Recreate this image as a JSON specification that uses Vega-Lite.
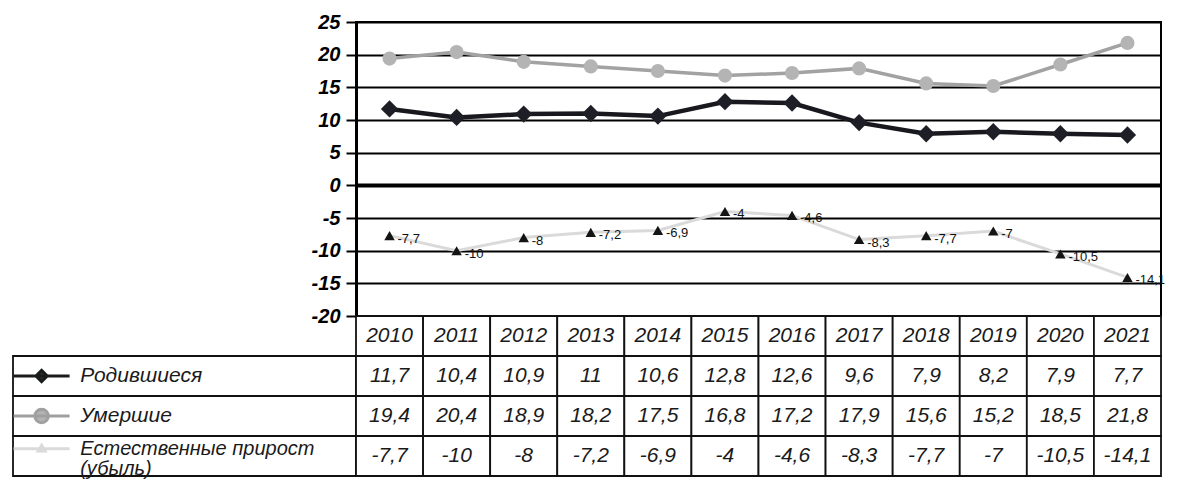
{
  "$schema": "https://vega.github.io/schema/vega-lite/v6.json",
  "padding": {"left": 7, "top": 11, "right": 0, "bottom": 0},
  "background": "white",
  "config": {
    "font": "Liberation Sans",
    "view": {"stroke": null},
    "locale": {"number": {"decimal": ",", "thousands": " ", "grouping": [3], "currency": ["", ""], "minus": "-"}}
  },
  "datasets": {
    "main": [
      {"year": 2010, "series": "Родившиеся", "value": 11.7},
      {"year": 2011, "series": "Родившиеся", "value": 10.4},
      {"year": 2012, "series": "Родившиеся", "value": 10.9},
      {"year": 2013, "series": "Родившиеся", "value": 11},
      {"year": 2014, "series": "Родившиеся", "value": 10.6},
      {"year": 2015, "series": "Родившиеся", "value": 12.8},
      {"year": 2016, "series": "Родившиеся", "value": 12.6},
      {"year": 2017, "series": "Родившиеся", "value": 9.6},
      {"year": 2018, "series": "Родившиеся", "value": 7.9},
      {"year": 2019, "series": "Родившиеся", "value": 8.2},
      {"year": 2020, "series": "Родившиеся", "value": 7.9},
      {"year": 2021, "series": "Родившиеся", "value": 7.7},
      {"year": 2010, "series": "Умершие", "value": 19.4},
      {"year": 2011, "series": "Умершие", "value": 20.4},
      {"year": 2012, "series": "Умершие", "value": 18.9},
      {"year": 2013, "series": "Умершие", "value": 18.2},
      {"year": 2014, "series": "Умершие", "value": 17.5},
      {"year": 2015, "series": "Умершие", "value": 16.8},
      {"year": 2016, "series": "Умершие", "value": 17.2},
      {"year": 2017, "series": "Умершие", "value": 17.9},
      {"year": 2018, "series": "Умершие", "value": 15.6},
      {"year": 2019, "series": "Умершие", "value": 15.2},
      {"year": 2020, "series": "Умершие", "value": 18.5},
      {"year": 2021, "series": "Умершие", "value": 21.8},
      {"year": 2010, "series": "Естественные прирост\n(убыль)", "value": -7.7},
      {"year": 2011, "series": "Естественные прирост\n(убыль)", "value": -10},
      {"year": 2012, "series": "Естественные прирост\n(убыль)", "value": -8},
      {"year": 2013, "series": "Естественные прирост\n(убыль)", "value": -7.2},
      {"year": 2014, "series": "Естественные прирост\n(убыль)", "value": -6.9},
      {"year": 2015, "series": "Естественные прирост\n(убыль)", "value": -4},
      {"year": 2016, "series": "Естественные прирост\n(убыль)", "value": -4.6},
      {"year": 2017, "series": "Естественные прирост\n(убыль)", "value": -8.3},
      {"year": 2018, "series": "Естественные прирост\n(убыль)", "value": -7.7},
      {"year": 2019, "series": "Естественные прирост\n(убыль)", "value": -7},
      {"year": 2020, "series": "Естественные прирост\n(убыль)", "value": -10.5},
      {"year": 2021, "series": "Естественные прирост\n(убыль)", "value": -14.1}
    ],
    "years": [
      {"year": 2010}, {"year": 2011}, {"year": 2012}, {"year": 2013},
      {"year": 2014}, {"year": 2015}, {"year": 2016}, {"year": 2017},
      {"year": 2018}, {"year": 2019}, {"year": 2020}, {"year": 2021}
    ],
    "series": [
      {"series": "Родившиеся"},
      {"series": "Умершие"},
      {"series": "Естественные прирост\n(убыль)"}
    ]
  },
  "columns": 2,
  "spacing": 0,
  "bounds": "flush",
  "resolve": {"scale": {"x": "independent", "y": "independent", "color": "independent", "shape": "independent", "fill": "independent", "stroke": "independent"}},
  "concat": [
    {
      "width": 343,
      "height": 294,
      "data": {"values": []},
      "mark": {"type": "point", "opacity": 0},
      "encoding": {}
    },
    {
      "width": 805,
      "height": 294,
      "data": {"name": "main"},
      "view": {"stroke": "black", "strokeWidth": 2},
      "encoding": {
        "x": {"field": "year", "type": "ordinal", "axis": null, "scale": {"type": "band", "paddingInner": 0, "paddingOuter": 0}},
        "y": {
          "field": "value",
          "type": "quantitative",
          "scale": {"domain": [-20, 25], "nice": false, "zero": false},
          "axis": {
            "values": [-20, -15, -10, -5, 0, 5, 10, 15, 20, 25],
            "title": null,
            "format": "d",
            "grid": true,
            "gridColor": "black",
            "gridOpacity": 1,
            "gridWidth": {"condition": {"test": "datum.value === 0", "value": 4}, "value": 1.8},
            "domainColor": "black",
            "domainWidth": 3,
            "tickColor": "black",
            "tickWidth": 2,
            "tickSize": 10,
            "labelFontSize": 20,
            "labelFontWeight": "bold",
            "labelFontStyle": "italic",
            "labelColor": "black",
            "labelPadding": 6
          }
        }
      },
      "layer": [
        {
          "transform": [{"filter": "datum.series === 'Умершие'"}],
          "mark": {"type": "line", "color": "#a2a2a2", "strokeWidth": 3.5}
        },
        {
          "transform": [{"filter": "datum.series === 'Умершие'"}],
          "mark": {"type": "point", "shape": "circle", "filled": true, "color": "#b4b4b4", "opacity": 1, "size": 200}
        },
        {
          "transform": [{"filter": "datum.series === 'Родившиеся'"}],
          "mark": {"type": "line", "color": "#18181e", "strokeWidth": 4.5}
        },
        {
          "transform": [{"filter": "datum.series === 'Родившиеся'"}],
          "mark": {"type": "point", "shape": "diamond", "filled": true, "color": "#1e1e26", "opacity": 1, "size": 300}
        },
        {
          "transform": [{"filter": "datum.value < 0"}],
          "mark": {"type": "line", "color": "#dadada", "strokeWidth": 3}
        },
        {
          "transform": [{"filter": "datum.value < 0"}],
          "mark": {"type": "point", "shape": "triangle-up", "filled": true, "color": "#141414", "opacity": 1, "size": 110}
        },
        {
          "transform": [{"filter": "datum.value < 0"}],
          "mark": {"type": "text", "align": "left", "baseline": "middle", "dx": 8, "dy": 3, "fontSize": 13, "color": "#111111"},
          "encoding": {"text": {"field": "value", "type": "quantitative", "format": ".1~f"}}
        }
      ]
    },
    {
      "width": 343,
      "height": 160,
      "data": {"name": "series"},
      "encoding": {
        "y": {
          "field": "series",
          "type": "nominal",
          "axis": null,
          "scale": {"type": "band", "domain": ["hdr", "Родившиеся", "Умершие", "Естественные прирост\n(убыль)"], "paddingInner": 0, "paddingOuter": 0}
        }
      },
      "layer": [
        {
          "mark": {"type": "rect", "fill": "white", "stroke": "#111111", "strokeWidth": 1.8}
        },
        {
          "mark": {"type": "point", "filled": true, "opacity": 1, "size": 3136, "strokeWidth": 3},
          "encoding": {
            "x": {"datum": "sym", "type": "nominal", "axis": null, "scale": {"type": "band", "domain": ["sym", "lbl", "p1", "p2", "p3", "p4"], "paddingInner": 0, "paddingOuter": 0}},
            "shape": {
              "field": "series",
              "type": "nominal",
              "legend": null,
              "scale": {
                "domain": ["Родившиеся", "Умершие", "Естественные прирост\n(убыль)"],
                "range": [
                  "M-1,0H1M0,-0.2L0.2,0L0,0.2L-0.2,0Z",
                  "M-1,0H1M-0.24,0A0.24,0.24,0,1,0,0.24,0A0.24,0.24,0,1,0,-0.24,0Z",
                  "M-1,-0.26H1M0,-0.38L0.12,-0.18L-0.12,-0.18Z"
                ]
              }
            },
            "fill": {
              "field": "series",
              "type": "nominal",
              "legend": null,
              "scale": {"domain": ["Родившиеся", "Умершие", "Естественные прирост\n(убыль)"], "range": ["#1f3d30", "#b3b3b3", "#d4d4d4"]}
            },
            "stroke": {
              "field": "series",
              "type": "nominal",
              "legend": null,
              "scale": {"domain": ["Родившиеся", "Умершие", "Естественные прирост\n(убыль)"], "range": ["#1b1b1b", "#a0a0a0", "#dadada"]}
            }
          }
        },
        {
          "transform": [{"filter": "datum.series === 'Родившиеся' || datum.series === 'Умершие'"}],
          "mark": {"type": "text", "align": "left", "baseline": "middle", "dx": 10, "fontSize": 21, "fontStyle": "italic", "color": "#1a1a1a"},
          "encoding": {
            "x": {"datum": "lbl", "type": "nominal", "bandPosition": 0},
            "text": {"field": "series", "type": "nominal"}
          }
        },
        {
          "transform": [{"filter": "datum.series !== 'Родившиеся' && datum.series !== 'Умершие'"}],
          "mark": {"type": "text", "align": "left", "baseline": "middle", "dx": 10, "dy": -7, "fontSize": 20, "fontStyle": "italic", "lineBreak": "\n", "lineHeight": 20, "color": "#1a1a1a"},
          "encoding": {
            "x": {"datum": "lbl", "type": "nominal", "bandPosition": 0},
            "text": {"field": "series", "type": "nominal"}
          }
        }
      ]
    },
    {
      "width": 805,
      "height": 160,
      "encoding": {
        "x": {"field": "year", "type": "ordinal", "axis": null, "scale": {"type": "band", "paddingInner": 0, "paddingOuter": 0}}
      },
      "layer": [
        {
          "data": {"name": "main"},
          "mark": {"type": "rect", "fill": "white", "stroke": "#111111", "strokeWidth": 1.8},
          "encoding": {
            "y": {
              "field": "series",
              "type": "nominal",
              "axis": null,
              "scale": {"type": "band", "domain": ["hdr", "Родившиеся", "Умершие", "Естественные прирост\n(убыль)"], "paddingInner": 0, "paddingOuter": 0}
            }
          }
        },
        {
          "data": {"name": "years"},
          "mark": {"type": "rect", "fill": "white", "stroke": "#111111", "strokeWidth": 1.8},
          "encoding": {"y": {"datum": "hdr", "type": "nominal"}}
        },
        {
          "data": {"name": "main"},
          "mark": {"type": "text", "align": "center", "baseline": "middle", "fontSize": 21, "fontStyle": "italic", "color": "#1a1a1a"},
          "encoding": {
            "y": {"field": "series", "type": "nominal"},
            "text": {"field": "value", "type": "quantitative", "format": ".1~f"}
          }
        },
        {
          "data": {"name": "years"},
          "mark": {"type": "text", "align": "center", "baseline": "middle", "fontSize": 21, "fontStyle": "italic", "color": "#1a1a1a"},
          "encoding": {
            "y": {"datum": "hdr", "type": "nominal"},
            "text": {"field": "year", "type": "ordinal"}
          }
        }
      ]
    }
  ]
}
